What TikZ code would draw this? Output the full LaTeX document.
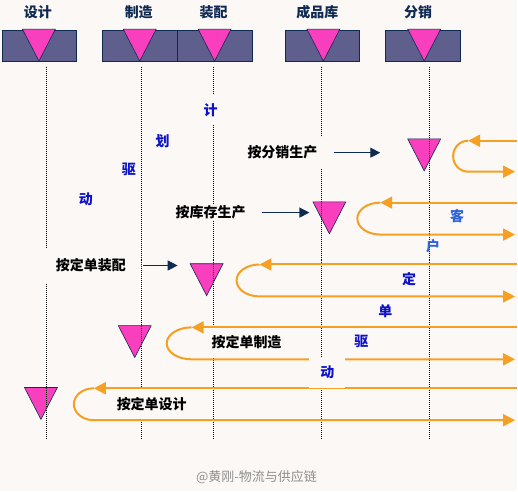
\documentclass[tikz,border=0pt]{standalone}
\usepackage{fontspec}
\newfontfamily\cjk{Noto Sans CJK SC}
\usetikzlibrary{shapes.geometric,arrows.meta}

\definecolor{bg}{HTML}{FCF8F5}
\definecolor{navy}{HTML}{0F2A52}
\definecolor{slate}{HTML}{5E5F8C}
\definecolor{pink}{HTML}{F93EBE}
\definecolor{flow}{HTML}{F5A023}
\definecolor{planblue}{HTML}{0D12C8}
\definecolor{custblue}{HTML}{2E62D9}
\definecolor{wm}{HTML}{8E8E8E}

\begin{document}
\begin{tikzpicture}[
	x=1pt, y=-1pt,
	stage/.style={
		draw=navy, fill=slate, line width=0.8pt,
		minimum width=75pt, minimum height=32pt, inner sep=0pt
	},
	tri/.style={
		isosceles triangle, isosceles triangle stretches,
		shape border rotate=270, draw=navy, fill=pink, line width=0.6pt,
		minimum width=33pt, minimum height=32pt, inner sep=0pt
	},
	hdr/.style={font=\cjk\bfseries\fontsize{14}{14}\selectfont, text=navy},
	lbl/.style={font=\cjk\bfseries\fontsize{14}{14}\selectfont, fill=bg, inner sep=1pt},
	drv/.style={font=\cjk\bfseries\fontsize{14}{14}\selectfont, text=planblue},
	guide/.style={dash pattern=on 1pt off 1pt, line width=0.7pt},
	flowline/.style={draw=flow, line width=2pt, -{Triangle[length=12pt,width=12pt]}},
	push/.style={draw=navy, line width=1.2pt, -{Triangle[length=10pt,width=10pt]}},
	]
	
	\fill[bg] (0,0) rectangle (518,492);
	
	% decoupling points
	\node[tri, anchor=apex] (t5) at (425,172) {};
	\node[tri, anchor=apex] (t4) at (330,235) {};
	\node[tri, anchor=apex] (t3) at (207,297) {};
	\node[tri, anchor=apex] (t2) at (135,359) {};
	\node[tri, anchor=apex] (t1) at (41,421) {};
	
	\draw[guide] (46,67) -- (46,440);
	\draw[guide] (142,67) -- (142,440);
	\draw[guide] (214,67) -- (214,440);
	\draw[guide] (322,67) -- (322,440);
	\draw[guide] (430,67) -- (430,440);
	
	\node[lbl, minimum height=32pt, inner xsep=6pt] (pd5) at (283,153) {按分销生产};
	\node[lbl]                                      (pd4) at (211,213) {按库存生产};
	\node[lbl, minimum height=35pt, minimum width=92pt] (pd3) at (91,266) {按定单装配};
	\node[lbl, minimum height=30pt]                 (pd2) at (247,343) {按定单制造};
	\node[lbl, minimum height=32pt, minimum width=110pt] (pd1) at (152,405) {按定单设计};
	
	\node[drv, fill=bg, minimum height=30pt] (jh1) at (211,110) {计};
	\node[drv] (jh2) at (163,141) {划};
	\node[drv] (jh3) at (129,170) {驱};
	\node[drv] (jh4) at (86,200)  {动};
	
	\node[drv, text=custblue] (kh1) at (458,217) {客};
	\node[drv, text=custblue] (kh2) at (434,247) {户};
	\node[drv] (kh3) at (410,280) {定};
	\node[drv] (kh4) at (386,312) {单};
	\node[drv] (kh5) at (362,342) {驱};
	
	% customer order loops, entering from the right
	\coordinate (in5) at (518,141);  \coordinate (turn5) at (469,141);  \coordinate (out5) at (516,172);
	\coordinate (in4) at (518,203);  \coordinate (turn4) at (381,203);  \coordinate (out4) at (516,235);
	\coordinate (in3) at (518,265);  \coordinate (turn3) at (260,265);  \coordinate (out3) at (516,297);
	\coordinate (in2) at (518,328);  \coordinate (turn2) at (192,328);  \coordinate (out2) at (516,360);
	\coordinate (in1) at (518,389);  \coordinate (turn1) at (94,389);   \coordinate (out1) at (516,421);
	
	\draw[flowline] (in5) -- (turn5);
	\draw[flowline] (turn5) arc[start angle=90, end angle=270, x radius=15pt, y radius=15.5pt] -- (out5);
	\draw[flowline] (in4) -- (turn4);
	\draw[flowline] (turn4) arc[start angle=90, end angle=270, x radius=23pt, y radius=16pt] -- (out4);
	\draw[flowline] (in3) -- (turn3);
	\draw[flowline] (turn3) arc[start angle=90, end angle=270, x radius=23pt, y radius=16pt] -- (out3);
	\draw[flowline] (in2) -- (turn2);
	\draw[flowline] (turn2) arc[start angle=90, end angle=270, x radius=25pt, y radius=16pt] -- (out2);
	\draw[flowline] (in1) -- (turn1);
	\draw[flowline] (turn1) arc[start angle=90, end angle=270, x radius=20pt, y radius=16pt] -- (out1);
	
	\node[drv, fill=bg, minimum width=36pt, minimum height=31pt] (kh6) at (328,373) {动};
	
	\draw[push, shorten <=10pt, shorten >=44pt] (pd5.east) -- (pd5.east -| t5.apex);
	\draw[push, shorten <=15pt, shorten >=20pt] (pd4.east) -- (pd4.east -| t4.apex);
	\draw[push, shorten <=6pt,  shorten >=29pt] (pd3.east) -- (pd3.east -| t3.apex);
	
	% stages
	\node[stage] (sj) at (39.5,46)  {};
	\node[stage] (zz) at (140.5,46) {};
	\node[stage] (zp) at (215.5,46) {};
	\node[stage] (ck) at (323,46)   {};
	\node[stage] (fx) at (424,46)   {};
	\node[tri, anchor=apex] (sjt) at (39,62)  {};
	\node[tri, anchor=apex] (zzt) at (140,62) {};
	\node[tri, anchor=apex] (zpt) at (215,62) {};
	\node[tri, anchor=apex] (ckt) at (324,62) {};
	\node[tri, anchor=apex] (fxt) at (425,62) {};
	
	\node[hdr] (hsj) at (38,12)  {设计};
	\node[hdr] (hzz) at (139,12) {制造};
	\node[hdr] (hzp) at (214,12) {装配};
	\node[hdr] (hck) at (318,12) {成品库};
	\node[hdr] (hfx) at (419,12) {分销};
	
	\node[font=\cjk\fontsize{13}{13}\selectfont, text=wm] (wmk) at (257,478) {@黄刚-物流与供应链};
	
\end{tikzpicture}
\end{document}
